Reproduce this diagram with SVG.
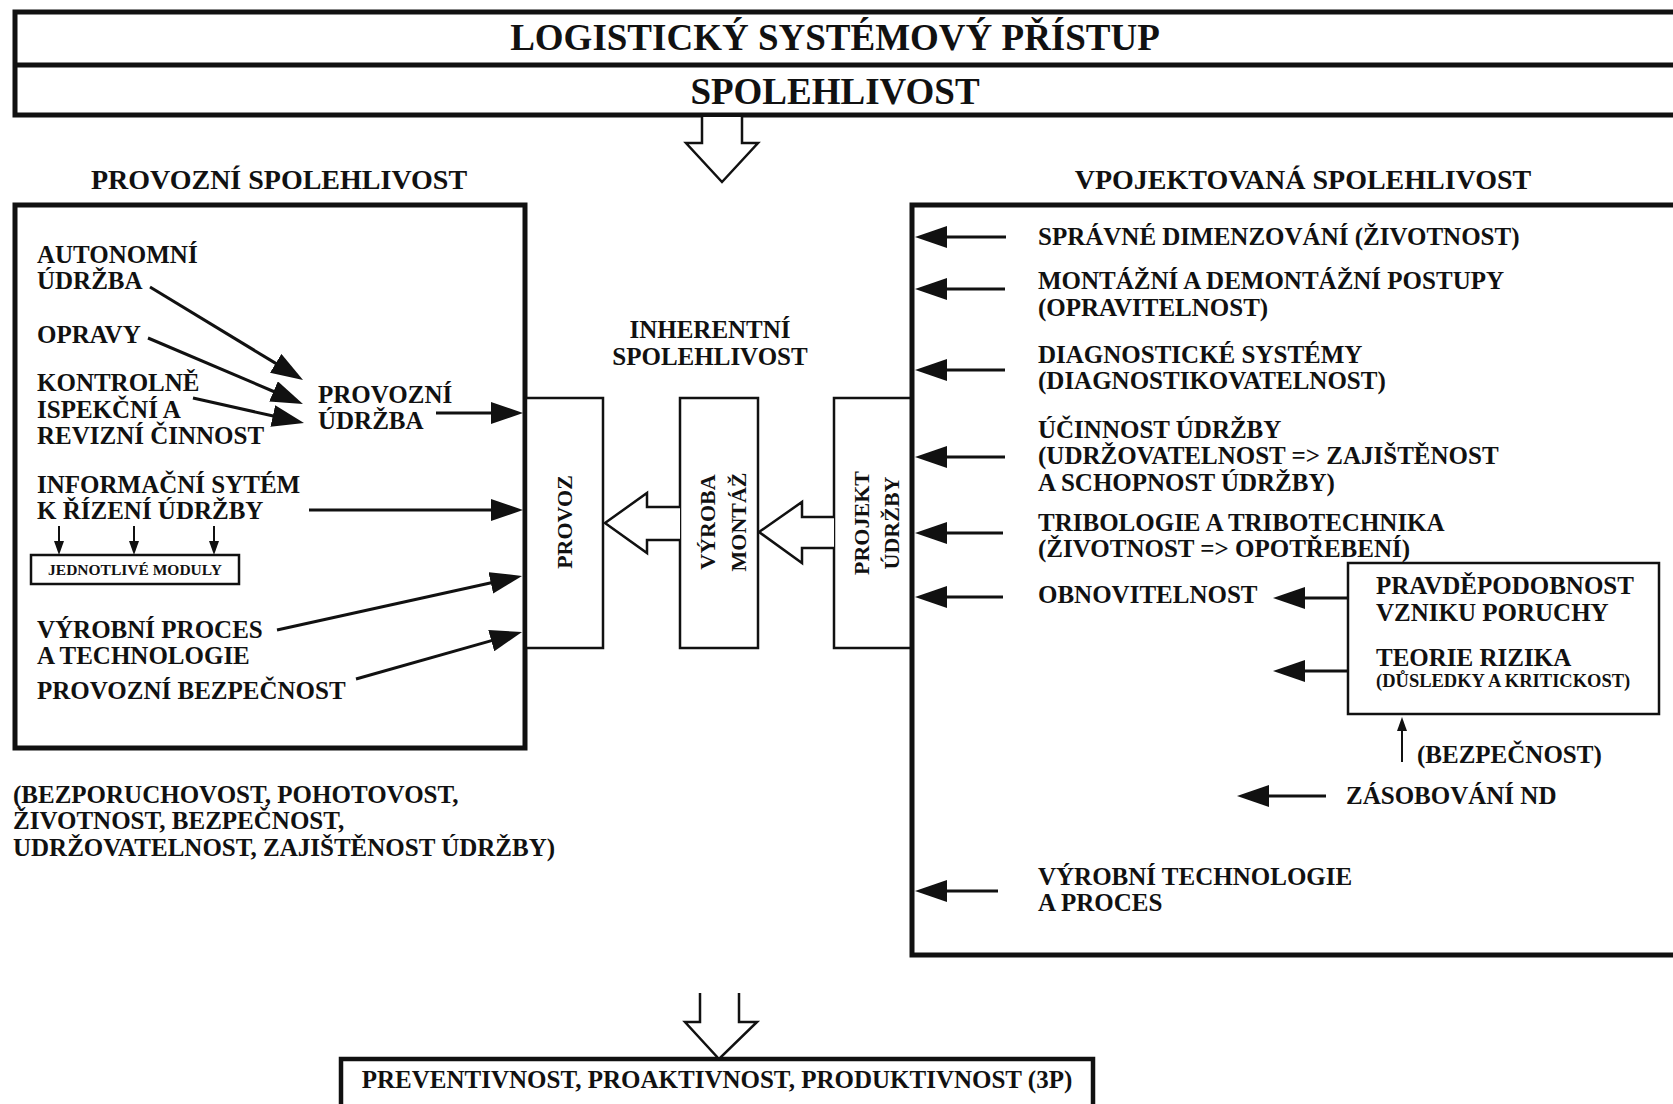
<svg xmlns="http://www.w3.org/2000/svg" width="1673" height="1104" viewBox="0 0 1673 1104">
<defs>
<style>
  text { font-family: "Liberation Serif", "Times New Roman", serif; font-weight: bold; fill: #111; }
  .t37 { font-size: 37px; }
  .h28 { font-size: 28px; }
  .t25 { font-size: 25px; }
  .v22 { font-size: 22px; }
  .s18 { font-size: 18.5px; }
  .s15 { font-size: 15.5px; }
  .mid { text-anchor: middle; }
  .frame { fill: none; stroke: #111; stroke-width: 5; }
  .box { fill: #fff; stroke: #111; stroke-width: 2.5; }
  .arr { fill: none; stroke: #111; stroke-width: 3; marker-end: url(#ah); }
  .sarr { fill: none; stroke: #111; stroke-width: 2; marker-end: url(#sh); }
  .hollow { fill: #fff; stroke: #111; stroke-width: 2.5; stroke-linejoin: miter; }
</style>
<marker id="ah" markerUnits="userSpaceOnUse" markerWidth="32" markerHeight="22" refX="4" refY="11" orient="auto">
  <path d="M0,0 L32,11 L0,22 z" fill="#111"/>
</marker>
<marker id="sh" markerUnits="userSpaceOnUse" markerWidth="14" markerHeight="10" refX="2" refY="5" orient="auto">
  <path d="M0,0 L14,5 L0,10 z" fill="#111"/>
</marker>
</defs>

<rect x="0" y="0" width="1673" height="1104" fill="#fff"/>

<!-- header band -->
<g id="header">
  <rect class="frame" x="15" y="12" width="1690" height="103"/>
  <line x1="15" y1="65" x2="1705" y2="65" stroke="#111" stroke-width="5"/>
  <text class="t37 mid" x="835" y="50">LOGISTICKÝ SYSTÉMOVÝ PŘÍSTUP</text>
  <text class="t37 mid" x="835" y="104">SPOLEHLIVOST</text>
</g>

<!-- operational reliability -->
<g id="provozni-spolehlivost">
  <text class="h28 mid" x="279" y="189">PROVOZNÍ SPOLEHLIVOST</text>
  <rect class="frame" x="15" y="205" width="510" height="543"/>
  <text class="t25" x="37" y="263">AUTONOMNÍ</text>
  <text class="t25" x="37" y="289">ÚDRŽBA</text>
  <text class="t25" x="37" y="343">OPRAVY</text>
  <text class="t25" x="37" y="391">KONTROLNĚ</text>
  <text class="t25" x="37" y="418">ISPEKČNÍ A</text>
  <text class="t25" x="37" y="444">REVIZNÍ ČINNOST</text>
  <text class="t25" x="318" y="403">PROVOZNÍ</text>
  <text class="t25" x="318" y="429">ÚDRŽBA</text>
  <text class="t25" x="37" y="493">INFORMAČNÍ SYTÉM</text>
  <text class="t25" x="37" y="519">K ŘÍZENÍ ÚDRŽBY</text>
  <text class="t25" x="37" y="638">VÝROBNÍ PROCES</text>
  <text class="t25" x="37" y="664">A TECHNOLOGIE</text>
  <text class="t25" x="37" y="699">PROVOZNÍ BEZPEČNOST</text>
</g>

<g id="moduly">
  <rect class="box" x="31" y="555" width="208" height="29"/>
  <text class="s15 mid" x="135" y="575">JEDNOTLIVÉ MODULY</text>
</g>

<g id="vlastnosti">
  <text class="t25" x="13" y="803">(BEZPORUCHOVOST, POHOTOVOST,</text>
  <text class="t25" x="13" y="829">ŽIVOTNOST, BEZPEČNOST,</text>
  <text class="t25" x="13" y="856">UDRŽOVATELNOST, ZAJIŠTĚNOST ÚDRŽBY)</text>
</g>

<!-- inherent reliability chain -->
<g id="inherentni">
  <text class="t25 mid" x="710" y="338">INHERENTNÍ</text>
  <text class="t25 mid" x="710" y="365">SPOLEHLIVOST</text>
</g>
<g id="provoz">
  <rect class="box" x="526" y="398" width="77" height="250"/>
  <text class="v22 mid" transform="translate(572,522) rotate(-90)">PROVOZ</text>
</g>
<g id="vyroba-montaz">
  <rect class="box" x="680" y="398" width="78" height="250"/>
  <text class="v22 mid" transform="translate(715,522) rotate(-90)">VÝROBA</text>
  <text class="v22 mid" transform="translate(746,522) rotate(-90)">MONTÁŽ</text>
</g>
<g id="projekt-udrzby">
  <rect class="box" x="834" y="398" width="78" height="250"/>
  <text class="v22 mid" transform="translate(869,523) rotate(-90)">PROJEKT</text>
  <text class="v22 mid" transform="translate(899,523) rotate(-90)">ÚDRŽBY</text>
</g>

<!-- designed-in reliability -->
<g id="vpojektovana-spolehlivost">
  <text class="h28 mid" x="1303" y="189">VPOJEKTOVANÁ SPOLEHLIVOST</text>
  <rect class="frame" x="912" y="205" width="790" height="750"/>
  <text class="t25" x="1038" y="245">SPRÁVNÉ DIMENZOVÁNÍ (ŽIVOTNOST)</text>
  <text class="t25" x="1038" y="289">MONTÁŽNÍ A DEMONTÁŽNÍ POSTUPY</text>
  <text class="t25" x="1038" y="316">(OPRAVITELNOST)</text>
  <text class="t25" x="1038" y="363">DIAGNOSTICKÉ SYSTÉMY</text>
  <text class="t25" x="1038" y="389">(DIAGNOSTIKOVATELNOST)</text>
  <text class="t25" x="1038" y="438">ÚČINNOST ÚDRŽBY</text>
  <text class="t25" x="1038" y="464">(UDRŽOVATELNOST =&gt; ZAJIŠTĚNOST</text>
  <text class="t25" x="1038" y="491">A SCHOPNOST ÚDRŽBY)</text>
  <text class="t25" x="1038" y="531">TRIBOLOGIE A TRIBOTECHNIKA</text>
  <text class="t25" x="1038" y="557">(ŽIVOTNOST =&gt; OPOTŘEBENÍ)</text>
  <text class="t25" x="1038" y="603">OBNOVITELNOST</text>
  <text class="t25" x="1417" y="763">(BEZPEČNOST)</text>
  <text class="t25" x="1346" y="804">ZÁSOBOVÁNÍ ND</text>
  <text class="t25" x="1038" y="885">VÝROBNÍ TECHNOLOGIE</text>
  <text class="t25" x="1038" y="911">A PROCES</text>
</g>

<g id="riziko">
  <rect class="box" x="1348" y="563" width="311" height="151" stroke-width="3"/>
  <text class="t25" x="1376" y="594">PRAVDĚPODOBNOST</text>
  <text class="t25" x="1376" y="621">VZNIKU PORUCHY</text>
  <text class="t25" x="1376" y="666">TEORIE RIZIKA</text>
  <text class="s18" x="1376" y="687">(DŮSLEDKY A KRITICKOST)</text>
</g>

<g id="vysledek">
  <rect x="341" y="1059" width="752" height="70" fill="#fff" stroke="#111" stroke-width="4.5"/>
  <text class="t25 mid" x="717" y="1088">PREVENTIVNOST, PROAKTIVNOST, PRODUKTIVNOST (3P)</text>
</g>

<!-- connectors -->
<g id="connectors">
  <!-- block arrows -->
  <polyline class="hollow" points="702,117 702,143 686,143 722,182 758,143 742,143 742,117"/>
  <polyline class="hollow" points="700,993 700,1022 685,1022 719,1059 757,1022 739,1022 739,993"/>
  <polyline class="hollow" points="680,507 647,507 647,493 605,523 647,553 647,540 680,540"/>
  <polyline class="hollow" points="834,517 802,517 802,502 759,532 802,563 802,548 834,548"/>

  <!-- left side inputs -->
  <line class="arr" x1="150" y1="287" x2="279.1" y2="365.4"/>
  <line class="arr" x1="148" y1="338" x2="277.2" y2="393"/>
  <line class="arr" x1="193" y1="398" x2="276.7" y2="416.8"/>
  <line class="arr" x1="436" y1="413" x2="495" y2="413"/>
  <line class="arr" x1="309" y1="510" x2="495" y2="510"/>
  <line class="arr" x1="277" y1="630" x2="494.7" y2="582"/>
  <line class="arr" x1="356" y1="679" x2="495.1" y2="639.6"/>
  <line class="sarr" x1="59" y1="526" x2="59" y2="543"/>
  <line class="sarr" x1="134" y1="526" x2="134" y2="543"/>
  <line class="sarr" x1="214" y1="526" x2="214" y2="543"/>

  <!-- right side inputs -->
  <line class="arr" x1="1006" y1="237" x2="943" y2="237"/>
  <line class="arr" x1="1005" y1="289" x2="943" y2="289"/>
  <line class="arr" x1="1005" y1="370" x2="943" y2="370"/>
  <line class="arr" x1="1005" y1="457" x2="943" y2="457"/>
  <line class="arr" x1="1003" y1="533" x2="943" y2="533"/>
  <line class="arr" x1="1003" y1="597" x2="943" y2="597"/>
  <line class="arr" x1="998" y1="891" x2="943" y2="891"/>
  <line class="arr" x1="1348" y1="598" x2="1301" y2="598"/>
  <line class="arr" x1="1348" y1="671" x2="1301" y2="671"/>
  <line class="arr" x1="1326" y1="796" x2="1265" y2="796"/>
  <line class="sarr" x1="1402" y1="762" x2="1402" y2="729"/>
</g>
</svg>
